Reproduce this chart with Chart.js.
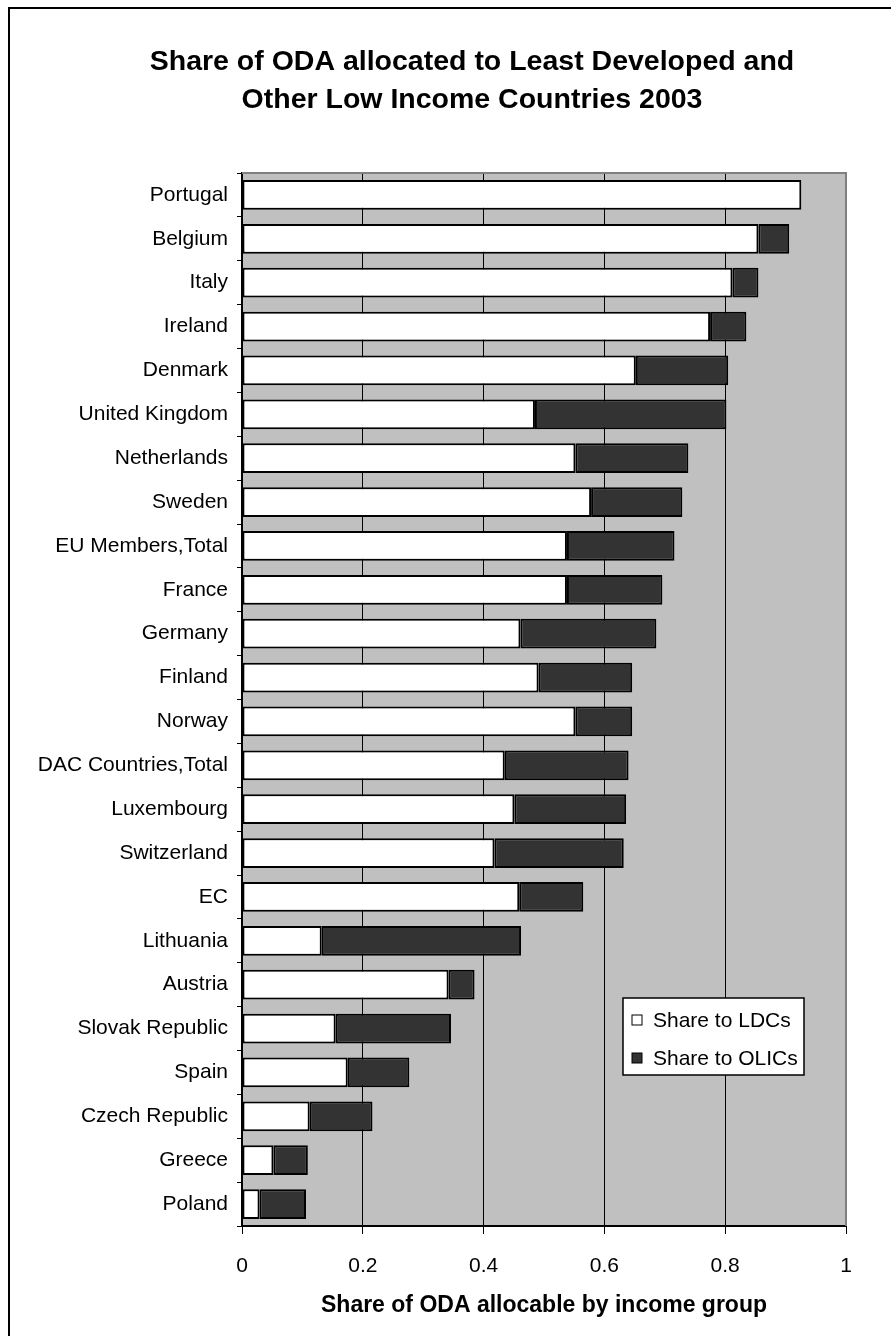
<!DOCTYPE html>
<html>
<head>
<meta charset="utf-8">
<script src="https://cdn.jsdelivr.net/npm/chart.js@4/dist/chart.umd.min.js"></script>
<style>
  html, body { margin: 0; padding: 0; background: #fff; }
  #wrap { width: 891px; height: 1336px; }
</style>
</head>
<body>
<div id="wrap"><canvas id="chart" width="891" height="1336"></canvas></div>
<script>
// data (share of allocable ODA, 2003)
const countries = [
  'Portugal', 'Belgium', 'Italy', 'Ireland', 'Denmark', 'United Kingdom',
  'Netherlands', 'Sweden', 'EU Members,Total', 'France', 'Germany', 'Finland',
  'Norway', 'DAC Countries,Total', 'Luxembourg', 'Switzerland', 'EC', 'Lithuania',
  'Austria', 'Slovak Republic', 'Spain', 'Czech Republic', 'Greece', 'Poland'
];
const shareLDC = [
  0.926, 0.855, 0.812, 0.775, 0.652, 0.485,
  0.552, 0.578, 0.538, 0.538, 0.461, 0.491,
  0.552, 0.435, 0.451, 0.418, 0.459, 0.132,
  0.342, 0.155, 0.175, 0.112, 0.052, 0.029
];
const shareOLIC = [
  0.000, 0.051, 0.043, 0.060, 0.153, 0.317,
  0.187, 0.151, 0.178, 0.158, 0.225, 0.155,
  0.094, 0.205, 0.185, 0.214, 0.106, 0.330,
  0.043, 0.191, 0.102, 0.104, 0.057, 0.077
];
const xTicks = [0, 0.2, 0.4, 0.6, 0.8, 1];
const xTickLabels = ['0', '0.2', '0.4', '0.6', '0.8', '1'];
const seriesNames = ['Share to LDCs', 'Share to OLICs'];
const titleLines = ['Share of ODA allocated to Least Developed and', 'Other Low Income Countries 2003'];
const xTitle = 'Share of ODA allocable by income group';

const FONT = '"Liberation Sans", Arial, Helvetica, sans-serif';
Chart.defaults.color = '#000';
Chart.defaults.font.family = FONT;

// grey plot background, frame, title (centred on the frame) and legend box
const decor = {
  id: 'decor',
  beforeDraw(chart) {
    const { ctx, chartArea: a } = chart;
    ctx.save();
    ctx.fillStyle = '#c0c0c0';
    ctx.fillRect(a.left, a.top, a.right - a.left, a.bottom - a.top);
    ctx.restore();
  },
  afterDraw(chart) {
    const { ctx, chartArea: a } = chart;
    ctx.save();
    // plot top / right edge
    ctx.strokeStyle = '#808080';
    ctx.lineWidth = 2;
    ctx.beginPath();
    ctx.moveTo(a.left, a.top);
    ctx.lineTo(a.right, a.top);
    ctx.lineTo(a.right, a.bottom);
    ctx.stroke();

    // outer frame (cut off at right and bottom in the original)
    ctx.strokeStyle = '#000';
    ctx.lineWidth = 2;
    ctx.beginPath();
    ctx.moveTo(9, 1340);
    ctx.lineTo(9, 8);
    ctx.lineTo(895, 8);
    ctx.stroke();

    // title
    ctx.fillStyle = '#000';
    ctx.font = 'bold 28.5px ' + FONT;
    ctx.textAlign = 'center';
    ctx.textBaseline = 'middle';
    titleLines.forEach((t, i) => ctx.fillText(t, 472, 62 + i * 38));

    // legend
    const lx = a.right - 223, ly = a.bottom - 228, lw = 181, lh = 77;
    ctx.fillStyle = '#fff';
    ctx.fillRect(lx, ly, lw, lh);
    ctx.strokeStyle = '#000';
    ctx.lineWidth = 1.5;
    ctx.strokeRect(lx, ly, lw, lh);
    ctx.font = '21px ' + FONT;
    ctx.textAlign = 'left';
    ctx.textBaseline = 'middle';
    chart.data.datasets.forEach((ds, i) => {
      const cy = ly + 22 + i * 38;
      ctx.fillStyle = ds.backgroundColor;
      ctx.fillRect(lx + 9, cy - 5, 10, 10);
      ctx.lineWidth = 1;
      ctx.strokeRect(lx + 9, cy - 5, 10, 10);
      ctx.fillStyle = '#000';
      ctx.fillText(ds.label, lx + 30, cy + 1);
    });
    ctx.restore();
  }
};

const ctx = document.getElementById('chart').getContext('2d');

new Chart(ctx, {
  type: 'bar',
  data: {
    labels: countries,
    datasets: [
      {
        label: seriesNames[0],
        data: shareLDC,
        backgroundColor: '#ffffff',
        borderColor: '#000',
        borderWidth: 2,
        borderSkipped: false
      },
      {
        label: seriesNames[1],
        data: shareOLIC,
        backgroundColor: '#333333',
        borderColor: '#000',
        borderWidth: 2,
        borderSkipped: false
      }
    ]
  },
  options: {
    indexAxis: 'y',
    responsive: false,
    animation: false,
    barPercentage: 0.68,
    categoryPercentage: 1,
    layout: { padding: { left: 0, right: 45, top: 173, bottom: 0 } },
    plugins: {
      legend: { display: false },
      tooltip: { enabled: false },
      title: { display: false }
    },
    scales: {
      x: {
        stacked: true,
        min: 0,
        max: 1,
        afterBuildTicks: s => { s.ticks = xTicks.map(v => ({ value: v })); },
        afterFit: s => { s.height = 110; },
        border: { color: '#000', width: 2 },
        grid: {
          color: c => (c.tick && c.tick.value === 1 ? '#808080' : '#000'),
          lineWidth: 1,
          tickLength: 8,
          tickColor: '#000'
        },
        ticks: {
          font: { size: 21 },
          padding: 20,
          maxRotation: 0,
          callback: (v, i) => xTickLabels[i]
        },
        title: {
          display: true,
          text: xTitle,
          font: { size: 23, weight: 'bold' },
          padding: { top: 0, bottom: 17 }
        }
      },
      y: {
        stacked: true,
        afterFit: s => { s.width = 242; },
        border: { color: '#000', width: 2 },
        grid: {
          drawOnChartArea: false,
          offset: true,
          tickLength: 5,
          tickColor: '#000'
        },
        ticks: { font: { size: 21 }, padding: 9, autoSkip: false }
      }
    }
  },
  plugins: [decor]
});
</script>
</body>
</html>
